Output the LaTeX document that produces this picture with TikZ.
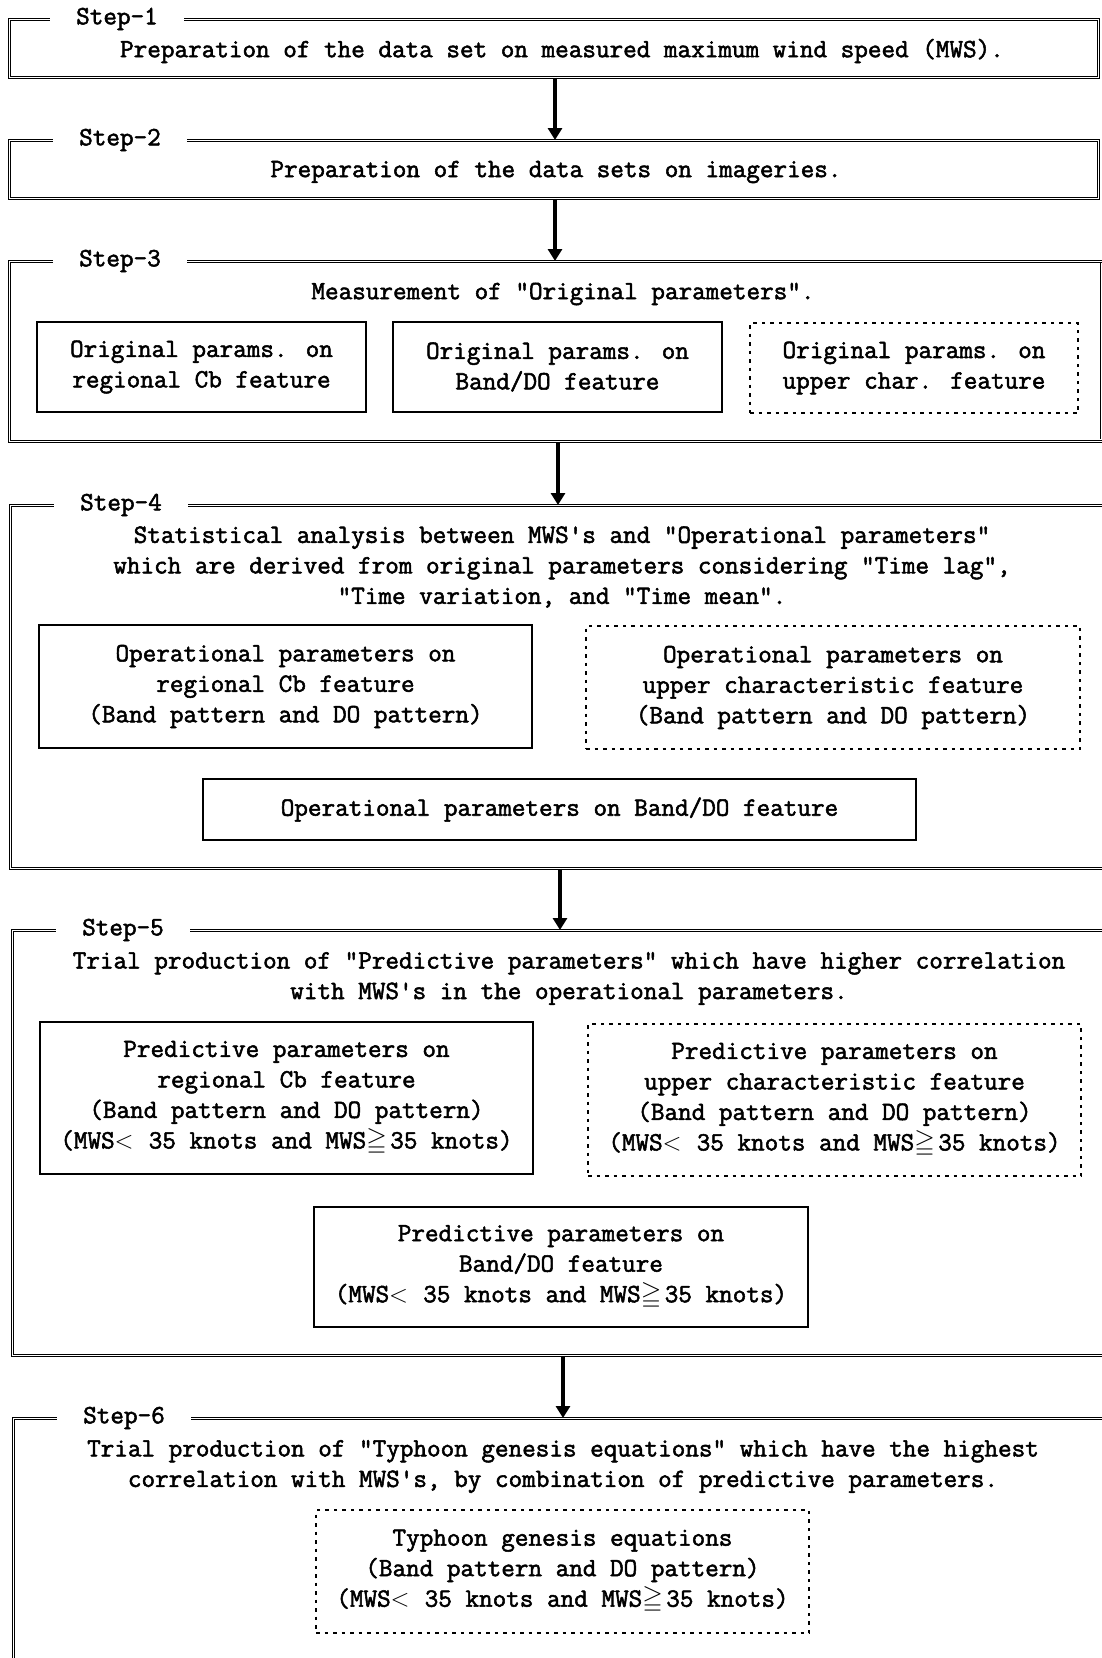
\documentclass[tikz,border=0pt]{standalone}
\usepackage{amssymb}
\usepackage{fontspec}
\newfontfamily\diafont{Latin Modern Mono}[FakeBold=2]
\usetikzlibrary{arrows.meta}
\newcommand\mwsrange{(MWS\makebox[34pt][l]{$<$}35 knots and MWS\makebox[24pt][l]{$\geqq$}35 knots)}
\begin{document}
\begin{tikzpicture}[x=1pt,y=-1pt,
  every node/.style={font=\diafont\fontsize{26.4}{30.5}\selectfont, inner sep=0pt},
  frame/.style={draw, double, double distance=1.6pt, line width=0.75pt, anchor=north west},
  lbl/.style={fill=white, inner xsep=26pt, inner ysep=3pt},
  txt/.style={align=center, yshift=-2pt},
  bx/.style={draw, line width=1.2pt, align=center},
  dbx/.style={bx, dash pattern=on 3.5pt off 5pt},
  arr/.style={line width=3.5pt, -{Triangle[length=12pt,width=14pt]}}
]
\useasboundingbox (0,0) rectangle (1102,1658);

% frames
\node[frame, minimum width=1089pt, minimum height=58pt] (s1) at (9,19) {};
\node[frame, minimum width=1089pt, minimum height=58pt] (s2) at (9,140) {};
\node[frame, minimum width=1106pt, minimum height=180pt] (s3) at (9,261) {};
\node[frame, minimum width=1105pt, minimum height=363pt] (s4) at (10,505) {};
\node[frame, minimum width=1103pt, minimum height=425pt] (s5) at (12,930) {};
\node[frame, minimum width=1102pt, minimum height=300pt] (s6) at (13,1418) {};
\draw[line width=0.6pt] (1100.5,263) -- (1100.5,439);

% step labels
\node[lbl] (l1) at (117,19) {Step-1};
\node[lbl] (l2) at (120,140) {Step-2};
\node[lbl] (l3) at (120,261) {Step-3};
\node[lbl] (l4) at (121,505) {Step-4};
\node[lbl] (l5) at (123,930) {Step-5};
\node[lbl] (l6) at (124,1418) {Step-6};

% step 1, 2
\node[txt] (t1) at (562,49) {Preparation of the data set on measured maximum wind speed (MWS).};
\node[txt] (t2) at (556,170) {Preparation of the data sets on imageries.};

% step 3
\node[txt] (t3) at (563,292) {Measurement of "Original parameters".};
\node[bx, minimum width=329pt, minimum height=90pt] (a) at (201.5,367) {Original params. on\\regional Cb feature};
\node[bx, minimum width=329pt, minimum height=90pt] (b) at (557.5,367) {Original params. on\\Band/DO feature};
\node[dbx, minimum width=328pt, minimum height=90pt] (c) at (914,368) {Original params. on\\upper char. feature};

% step 4
\node[txt] (t4) at (562,565) {Statistical analysis between MWS\textquotesingle s and "Operational parameters"\\which are derived from original parameters considering "Time lag",\\"Time variation, and "Time mean".};
\node[bx, minimum width=493pt, minimum height=123pt] (d) at (285.5,686.5) {Operational parameters on\\regional Cb feature\\(Band pattern and DO pattern)};
\node[dbx, minimum width=494pt, minimum height=123pt] (e) at (833,687.5) {Operational parameters on\\upper characteristic feature\\(Band pattern and DO pattern)};
\node[bx, minimum width=713pt, minimum height=61pt] (f) at (559.5,809.5) {Operational parameters on Band/DO feature};

% step 5
\node[txt] (t5) at (569,976.5) {Trial production of "Predictive parameters" which have higher correlation\\with MWS\textquotesingle s in the operational parameters.};
\node[bx, minimum width=493pt, minimum height=152pt] (g) at (286.5,1098) {Predictive parameters on\\regional Cb feature\\(Band pattern and DO pattern)\\\mwsrange};
\node[dbx, minimum width=493pt, minimum height=152pt] (h) at (834.5,1100) {Predictive parameters on\\upper characteristic feature\\(Band pattern and DO pattern)\\\mwsrange};
\node[bx, minimum width=494pt, minimum height=120pt] (i) at (561,1267) {Predictive parameters on\\Band/DO feature\\\mwsrange};

% step 6
\node[txt] (t6) at (563,1464.5) {Trial production of "Typhoon genesis equations" which have the highest\\correlation with MWS\textquotesingle s, by combination of predictive parameters.};
\node[dbx, minimum width=493pt, minimum height=123pt] (j) at (562.5,1571.5) {Typhoon genesis equations\\(Band pattern and DO pattern)\\\mwsrange};

% arrows
\coordinate (x1) at (555,0);
\coordinate (x2) at (555,0);
\coordinate (x3) at (558,0);
\coordinate (x4) at (560,0);
\coordinate (x5) at (563,0);
\draw[arr] (s1.south -| x1) -- (s2.north -| x1);
\draw[arr] (s2.south -| x2) -- (s3.north -| x2);
\draw[arr] (s3.south -| x3) -- (s4.north -| x3);
\draw[arr] (s4.south -| x4) -- (s5.north -| x4);
\draw[arr] (s5.south -| x5) -- (s6.north -| x5);
\end{tikzpicture}
\end{document}
